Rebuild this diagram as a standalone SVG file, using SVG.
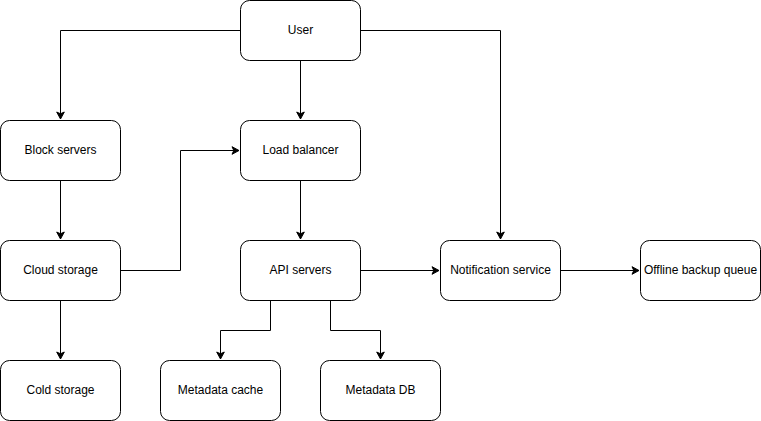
<svg xmlns="http://www.w3.org/2000/svg" width="761" height="421" viewBox="0 0 761 421">
<style>
.n rect{fill:#fff;stroke:#000;stroke-width:1}
.n text{font-family:"Liberation Sans",Arial,sans-serif;font-size:12px;fill:#000;text-anchor:middle;dominant-baseline:central}
.e path{fill:none;stroke:#000;stroke-width:1}
</style>
<defs>
<marker id="a" markerUnits="userSpaceOnUse" markerWidth="10" markerHeight="10" viewBox="0 0 10 10" refX="8" refY="5" orient="auto">
<path d="M1,1.2 L8,5 L1,8.8 L2.8,5 Z" fill="#000" stroke="#000" stroke-width="1"/>
</marker>
</defs>
<rect width="761" height="421" fill="#fff"/>
<g class="e">
<path d="M240.5,30.5 H60.5 V119" marker-end="url(#a)"/>
<path d="M300.5,60.5 V119" marker-end="url(#a)"/>
<path d="M360.5,30.5 H500.5 V239" marker-end="url(#a)"/>
<path d="M60.5,180.5 V239" marker-end="url(#a)"/>
<path d="M120.5,270.5 H180.5 V150.5 H239" marker-end="url(#a)"/>
<path d="M300.5,180.5 V239" marker-end="url(#a)"/>
<path d="M60.5,300.5 V359" marker-end="url(#a)"/>
<path d="M360.5,270.5 H439" marker-end="url(#a)"/>
<path d="M560.5,270.5 H639" marker-end="url(#a)"/>
<path d="M270.5,300.5 V330.5 H220.5 V359" marker-end="url(#a)"/>
<path d="M330.5,300.5 V330.5 H380.5 V359" marker-end="url(#a)"/>
</g>
<g id="user" class="n"><rect x="240.5" y="0.5" width="120" height="60" rx="9"/><text x="300.5" y="29.5">User</text></g>
<g id="block-servers" class="n"><rect x="0.5" y="120.5" width="120" height="60" rx="9"/><text x="60.5" y="149.5">Block servers</text></g>
<g id="load-balancer" class="n"><rect x="240.5" y="120.5" width="120" height="60" rx="9"/><text x="300.5" y="149.5">Load balancer</text></g>
<g id="cloud-storage" class="n"><rect x="0.5" y="240.5" width="120" height="60" rx="9"/><text x="60.5" y="269.5">Cloud storage</text></g>
<g id="api-servers" class="n"><rect x="240.5" y="240.5" width="120" height="60" rx="9"/><text x="300.5" y="269.5">API servers</text></g>
<g id="notification-service" class="n"><rect x="440.5" y="240.5" width="120" height="60" rx="9"/><text x="500.5" y="269.5">Notification service</text></g>
<g id="offline-backup-queue" class="n"><rect x="640.5" y="240.5" width="120" height="60" rx="9"/><text x="700.5" y="269.5">Offline backup queue</text></g>
<g id="cold-storage" class="n"><rect x="0.5" y="360.5" width="120" height="60" rx="9"/><text x="60.5" y="389.5">Cold storage</text></g>
<g id="metadata-cache" class="n"><rect x="160.5" y="360.5" width="120" height="60" rx="9"/><text x="220.5" y="389.5">Metadata cache</text></g>
<g id="metadata-db" class="n"><rect x="320.5" y="360.5" width="120" height="60" rx="9"/><text x="380.5" y="389.5">Metadata DB</text></g>
</svg>
